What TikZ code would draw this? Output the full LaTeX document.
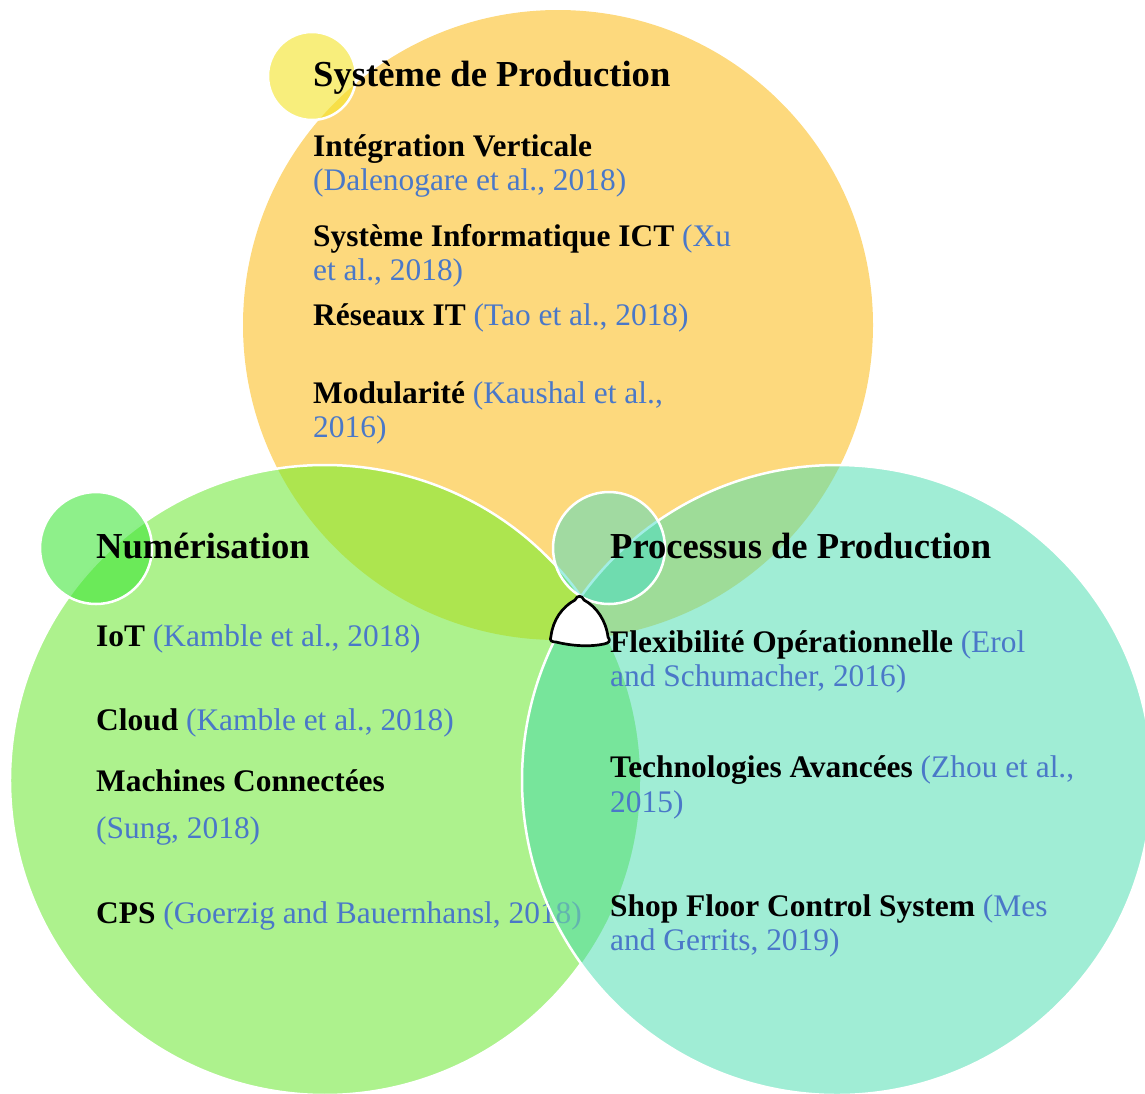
\documentclass[tikz,border=0pt]{standalone}
\usepackage{fontspec}
\setmainfont{Liberation Serif}
\definecolor{cOr}{HTML}{FDD97D}
\definecolor{cGr}{HTML}{ADF28D}
\definecolor{cTe}{HTML}{A0EDD5}
\definecolor{cLens}{HTML}{ADE54F}
\definecolor{cOT}{HTML}{9EDC98}
\definecolor{cGT}{HTML}{77E59B}
\definecolor{cYs}{RGB}{243,227,37}
\definecolor{cGs}{RGB}{60,229,53}
\definecolor{cTs}{RGB}{61,221,201}
\definecolor{citeblue}{HTML}{4A78C8}
\newcommand{\mycite}[1]{\textcolor{citeblue}{#1}}
\tikzset{
  bodytext/.style={anchor=base west, inner sep=0pt, font=\fontsize{31.4}{34}\selectfont},
  titletext/.style={anchor=base west, inner sep=0pt, font=\fontsize{36.6}{40}\selectfont\bfseries},
  whiteedge/.style={draw=white, line width=2.5pt},
}
\begin{document}
\begin{tikzpicture}[x=1pt,y=-1pt]
\useasboundingbox (0,0) rectangle (1145,1093);
% big circles
\fill[cOr] (558,325) circle[radius=315];
\fill[cGr] (325,780) circle[radius=315];
\begin{scope}
  \clip (558,325) circle[radius=315];
  \fill[cLens] (325,780) circle[radius=315];
\end{scope}
\fill[cTe] (837,780) circle[radius=315];
\begin{scope}
  \clip (558,325) circle[radius=315];
  \fill[cOT] (837,780) circle[radius=315];
\end{scope}
\begin{scope}
  \clip (325,780) circle[radius=315];
  \fill[cGT] (837,780) circle[radius=315];
\end{scope}
% left body text (partly under the teal circle)
\node[bodytext] (iot) at (96,646) {\textbf{IoT} \mycite{(Kamble et al., 2018)}};
\node[bodytext] (cloud) at (96,730) {\textbf{Cloud} \mycite{(Kamble et al., 2018)}};
\node[bodytext] (mach) at (96,791) {\textbf{Machines Connectées}};
\node[bodytext] (machb) at (96,838) {\mycite{(Sung, 2018)}};
\node[bodytext] (cps) at (96,923) {\textbf{CPS} \mycite{(Goerzig and Bauernhansl, 2018)}};
\begin{scope}
  \clip (325,780) circle[radius=315];
  \fill[cGT, opacity=0.55] (837,780) circle[radius=315];
\end{scope}
% white edges
\draw[whiteedge] ([shift={(-35.7:315)}]325,780) arc[start angle=-35.7, end angle=-324.3, radius=315];
\draw[whiteedge] (837,780) circle[radius=315];
% small circles
\fill[cYs, fill opacity=0.6] (312,76) circle[radius=44];
\draw[whiteedge] (312,76) circle[radius=44];
\fill[cGs, fill opacity=0.58] (96,548) circle[radius=56];
\draw[whiteedge] (96,548) circle[radius=56];
\fill[cTs, fill opacity=0.48] (609,548) circle[radius=56];
\draw[whiteedge] (609,548) circle[radius=56];
% triple intersection marker
\draw[black, line width=2.7pt, fill=white, line join=round]
  (575,600) .. controls (562,607) and (553,620) .. (551,636)
  .. controls (549,641) and (552,642) .. (556,642)
  .. controls (572,646) and (590,647) .. (604,644)
  .. controls (609,643) and (611,641) .. (608,637)
  .. controls (606,621) and (597,607) .. (584,600)
  .. controls (582,595) and (577,595) .. (575,600) -- cycle;
% top group
\node[titletext] (t0) at (313,86) {Système de Production};
\node[bodytext] (t1) at (313,156) {\textbf{Intégration Verticale}};
\node[bodytext] (t1b) at (313,190) {\mycite{(Dalenogare et al., 2018)}};
\node[bodytext] (t2) at (313,246) {\textbf{Système Informatique ICT} \mycite{(Xu}};
\node[bodytext] (t2b) at (313,280) {\mycite{et al., 2018)}};
\node[bodytext] (t3) at (313,325) {\textbf{Réseaux IT} \mycite{(Tao et al., 2018)}};
\node[bodytext] (t4) at (313,403) {\textbf{Modularité} \mycite{(Kaushal et al.,}};
\node[bodytext] (t4b) at (313,437) {\mycite{2016)}};
% left title
\node[titletext] (l0) at (96,558) {Numérisation};
% right group
\node[titletext] (r0) at (610,558) {Processus de Production};
\node[bodytext] (r1) at (610,652) {\textbf{Flexibilité Opérationnelle} \mycite{(Erol}};
\node[bodytext] (r1b) at (610,686) {\mycite{and Schumacher, 2016)}};
\node[bodytext] (r2) at (610,777) {\textbf{Technologies Avancées} \mycite{(Zhou et al.,}};
\node[bodytext] (r2b) at (610,812) {\mycite{2015)}};
\node[bodytext] (r3) at (610,916) {\textbf{Shop Floor Control System} \mycite{(Mes}};
\node[bodytext] (r3b) at (610,950) {\mycite{and Gerrits, 2019)}};
\end{tikzpicture}
\end{document}
